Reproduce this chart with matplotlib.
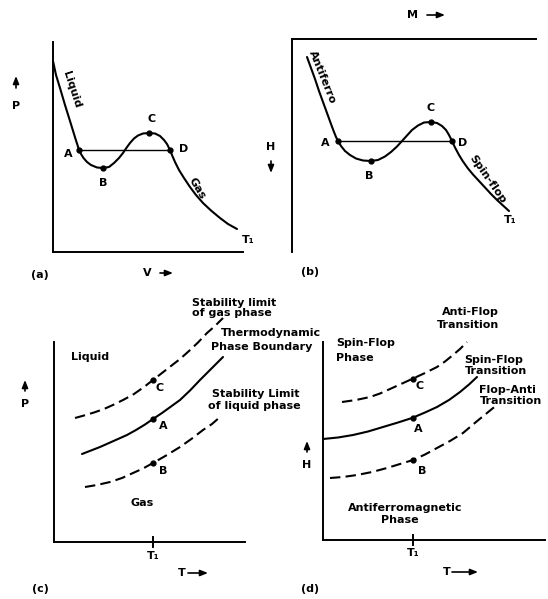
import matplotlib.pyplot as plt

W, H = 548, 599

# (a) P-V isotherm at T1 (sketch units)
a_v = [0.0, 0.3, 0.7, 1.2, 1.7, 2.1, 2.3, 2.45, 2.6, 2.8, 3.05, 3.4, 3.8, 4.4, 5.0, 5.6, 6.1, 6.6,
       7.0, 7.3, 7.7, 8.1, 8.5, 9.0, 9.6, 10.2, 10.7, 11.1, 11.4, 11.7, 11.9, 12.2, 12.6, 13.1,
       13.7, 14.3, 15.0, 15.8, 16.7, 17.5, 18.4]
a_p = [19.1, 17.7, 16.4, 14.7, 13.1, 11.8, 11.15, 10.7, 10.2, 9.8, 9.4, 9.0, 8.7, 8.45, 8.4, 8.5,
       8.9, 9.4, 9.9, 10.35, 10.9, 11.35, 11.65, 11.85, 11.9, 11.85, 11.6, 11.2, 10.8, 10.2, 9.7,
       9.0, 8.2, 7.4, 6.5, 5.7, 4.9, 4.15, 3.4, 2.8, 2.3]
a_pts_v = [2.6, 5.0, 9.6, 11.7]
a_pts_p = [10.2, 8.4, 11.9, 10.2]

# (b) H-M isotherm at T1
b_m = [1.5, 1.9, 2.3, 2.7, 3.1, 3.5, 3.9, 4.2, 4.4, 4.6, 4.9, 5.3, 5.8, 6.4, 7.1, 7.9, 8.6, 9.3,
       9.9, 10.5, 11.0, 11.5, 12.0, 12.6, 13.2, 13.9, 14.5, 15.0, 15.4, 15.7, 16.0, 16.3, 16.7,
       17.1, 17.6, 18.1, 18.7, 19.3, 19.9, 20.5, 21.1, 21.7]
b_h = [19.5, 18.4, 17.3, 16.1, 15.0, 13.9, 12.8, 12.0, 11.5, 11.1, 10.6, 10.1, 9.7, 9.35, 9.15, 9.1,
       9.2, 9.55, 10.0, 10.55, 11.1, 11.65, 12.2, 12.65, 12.95, 13.0, 12.9, 12.6, 12.2, 11.7, 11.1,
       10.45, 9.7, 9.05, 8.35, 7.75, 7.1, 6.45, 5.8, 5.2, 4.65, 4.1]
b_pts_m = [4.6, 7.9, 13.9, 16.0]
b_pts_h = [11.1, 9.1, 13.0, 11.1]

# (c) P-T phase diagram
c_gas_lim_t = [2.1, 3.0, 4.0, 5.0, 6.0, 7.0, 8.0, 9.0, 9.9, 10.8, 11.7, 12.6, 13.5, 14.4, 15.3,
               16.1, 16.9]
c_gas_lim_p = [12.4, 12.65, 12.95, 13.3, 13.75, 14.25, 14.8, 15.5, 16.2, 16.9, 17.6, 18.3, 19.1,
               19.95, 20.9, 21.6, 22.4]
c_bound_t = [2.8, 3.7, 4.6, 5.5, 6.4, 7.3, 8.2, 9.1, 9.9, 10.8, 11.7, 12.6, 13.6, 14.6, 15.4,
             16.2, 16.9]
c_bound_p = [8.8, 9.15, 9.5, 9.9, 10.3, 10.7, 11.2, 11.75, 12.3, 12.9, 13.55, 14.2, 15.15, 16.2,
             17.0, 17.8, 18.5]
c_liq_lim_t = [3.1, 4.3, 5.6, 6.8, 7.9, 8.9, 9.9, 11.3, 12.6, 13.8, 14.9, 15.8, 16.6]
c_liq_lim_p = [5.5, 5.7, 6.0, 6.4, 6.9, 7.35, 7.9, 8.7, 9.5, 10.35, 11.2, 11.8, 12.5]
c_t1 = 9.9

# (d) H-T phase diagram
d_af_t = [1.9, 3.3, 4.7, 5.7, 6.7, 7.8, 8.9, 10.2, 11.4, 12.2, 13.0, 13.7, 14.4]
d_af_h = [13.8, 14.0, 14.3, 14.65, 15.1, 15.6, 16.1, 16.7, 17.3, 17.85, 18.5, 19.1, 19.8]
d_sf_t = [0.0, 1.5, 3.0, 4.5, 6.0, 7.5, 8.9, 10.2, 11.4, 12.6, 13.7, 14.6, 15.4]
d_sf_h = [10.1, 10.25, 10.5, 10.85, 11.3, 11.75, 12.2, 12.75, 13.3, 14.0, 14.8, 15.55, 16.3]
d_fa_t = [0.7, 2.0, 3.4, 4.9, 6.4, 7.7, 9.0, 10.2, 11.4, 12.7, 14.0, 15.3, 16.4, 17.5]
d_fa_h = [6.2, 6.3, 6.5, 6.8, 7.2, 7.6, 8.0, 8.55, 9.2, 9.9, 10.7, 11.8, 12.7, 13.6]
d_t1 = 9.0

LW = 1.5
DASH = (5, 2.5)
FS = 8

fig = plt.figure(figsize=(W / 100, H / 100), dpi=100)


def panel(l, t, r, b, xmax, ymax, sides):
    ax = fig.add_axes([l / W, 1 - b / H, (r - l) / W, (b - t) / H])
    ax.set_xlim(0, xmax)
    ax.set_ylim(0, ymax)
    for s in ax.spines:
        ax.spines[s].set_visible(s in sides)
        ax.spines[s].set_linewidth(1.4)
    ax.set_xticks([])
    ax.set_yticks([])
    ax.patch.set_alpha(0)
    return ax


def lab(ax, x, y, s, **kw):
    kw.setdefault('ha', 'center')
    ax.text(x, y, s, va='center', fontsize=FS, fontweight='bold', clip_on=False, **kw)


def arrow(ax, x0, y0, x1, y1):
    ax.annotate('', xy=(x1, y1), xytext=(x0, y0), annotation_clip=False,
                arrowprops=dict(arrowstyle='-|>,head_length=0.45,head_width=0.18',
                                lw=1.2, color='k', shrinkA=0, shrinkB=0))


def curve(ax, x, y, dashed=False):
    kw = dict(color='k', lw=LW, clip_on=False, solid_joinstyle='round',
              solid_capstyle='round', dash_joinstyle='round')
    if dashed:
        kw['dashes'] = DASH
    ax.plot(x, y, **kw)


# ---- (a)
ax = panel(53, 42, 243, 252, 19, 21, ['left', 'bottom'])
curve(ax, a_v, a_p)
ax.plot([a_pts_v[0], a_pts_v[3]], [a_pts_p[0], a_pts_p[3]], color='k', lw=1.0)
ax.plot(a_pts_v, a_pts_p, 'o', color='k', ms=3.5)
lab(ax, 1.9, 16.2, 'Liquid', rotation=-72)
lab(ax, 14.4, 6.4, 'Gas', rotation=-59)
for s, x, y in zip('ABCD', [1.5, 5.0, 9.9, 13.1], [9.8, 6.9, 13.3, 10.3]):
    lab(ax, x, y, s)
lab(ax, 19.5, 1.2, 'T₁')
lab(ax, -3.7, 14.6, 'P')
arrow(ax, -3.7, 16.4, -3.7, 17.6)
lab(ax, -1.3, -2.3, '(a)')
lab(ax, 9.4, -2.1, 'V')
arrow(ax, 10.7, -2.1, 12.0, -2.1)

# ---- (b)
ax = panel(292, 39, 536, 252, 24.4, 21.3, ['left', 'top'])
curve(ax, b_m, b_h)
ax.plot([b_pts_m[0], b_pts_m[3]], [b_pts_h[0], b_pts_h[3]], color='k', lw=1.0)
ax.plot(b_pts_m, b_pts_h, 'o', color='k', ms=3.5)
lab(ax, 3.0, 17.5, 'Antiferro', rotation=-68)
lab(ax, 19.6, 7.3, 'Spin-flop', rotation=-55)
for s, x, y in zip('ABCD', [3.3, 7.7, 13.9, 17.1], [10.9, 7.6, 14.4, 10.9]):
    lab(ax, x, y, s)
lab(ax, 21.8, 3.2, 'T₁')
lab(ax, -2.1, 10.5, 'H')
arrow(ax, -2.1, 9.1, -2.1, 7.9)
lab(ax, 1.8, -2.0, '(b)')
lab(ax, 12.0, 23.7, 'M')
arrow(ax, 13.5, 23.7, 15.3, 23.7)

# ---- (c)
ax = panel(54, 342, 245, 542, 19.1, 20, ['left', 'bottom'])
curve(ax, c_gas_lim_t, c_gas_lim_p, dashed=True)
curve(ax, c_bound_t, c_bound_p)
curve(ax, c_liq_lim_t, c_liq_lim_p, dashed=True)
ax.plot([c_t1] * 3, [16.2, 12.3, 7.9], 'o', color='k', ms=3.5)
ax.plot([c_t1, c_t1], [-0.5, 0.5], color='k', lw=1.4, clip_on=False)
for s, x, y in zip('CAB', [10.6, 10.9, 10.9], [15.4, 11.6, 7.1]):
    lab(ax, x, y, s)
lab(ax, 3.6, 18.5, 'Liquid')
lab(ax, 8.8, 3.9, 'Gas')
lab(ax, 13.8, 23.9, 'Stability limit', ha='left')
lab(ax, 13.8, 22.9, 'of gas phase', ha='left')
lab(ax, 21.7, 20.9, 'Thermodynamic')
lab(ax, 20.8, 19.5, 'Phase Boundary')
lab(ax, 20.2, 14.8, 'Stability Limit')
lab(ax, 20.0, 13.6, 'of liquid phase')
lab(ax, -2.9, 13.8, 'P')
arrow(ax, -2.9, 15.1, -2.9, 16.2)
lab(ax, c_t1, -1.4, 'T₁')
lab(ax, 12.8, -3.1, 'T')
arrow(ax, 13.4, -3.1, 15.4, -3.1)
lab(ax, -1.4, -4.7, '(c)')

# ---- (d)
ax = panel(323, 342, 545, 540, 22.2, 19.8, ['left', 'bottom'])
curve(ax, d_af_t, d_af_h, dashed=True)
curve(ax, d_sf_t, d_sf_h)
curve(ax, d_fa_t, d_fa_h, dashed=True)
ax.plot([d_t1] * 3, [16.1, 12.2, 8.0], 'o', color='k', ms=3.5)
ax.plot([d_t1, d_t1], [-0.5, 0.5], color='k', lw=1.4, clip_on=False)
for s, x, y in zip('CAB', [9.7, 9.5, 9.9], [15.4, 11.1, 6.9]):
    lab(ax, x, y, s)
lab(ax, 4.3, 19.7, 'Spin-Flop')
lab(ax, 3.2, 18.2, 'Phase')
lab(ax, 14.7, 22.8, 'Anti-Flop')
lab(ax, 14.5, 21.5, 'Transition')
lab(ax, 17.1, 18.0, 'Spin-Flop')
lab(ax, 17.3, 16.9, 'Transition')
lab(ax, 18.4, 15.0, 'Flop-Anti')
lab(ax, 18.8, 13.9, 'Transition')
lab(ax, 8.2, 3.2, 'Antiferromagnetic')
lab(ax, 7.7, 2.0, 'Phase')
lab(ax, -1.6, 7.5, 'H')
arrow(ax, -1.6, 8.8, -1.6, 9.9)
lab(ax, d_t1, -1.3, 'T₁')
lab(ax, 12.4, -3.2, 'T')
arrow(ax, 12.9, -3.2, 15.5, -3.2)
lab(ax, -1.3, -4.9, '(d)')

fig.savefig('out.png', dpi=100)
